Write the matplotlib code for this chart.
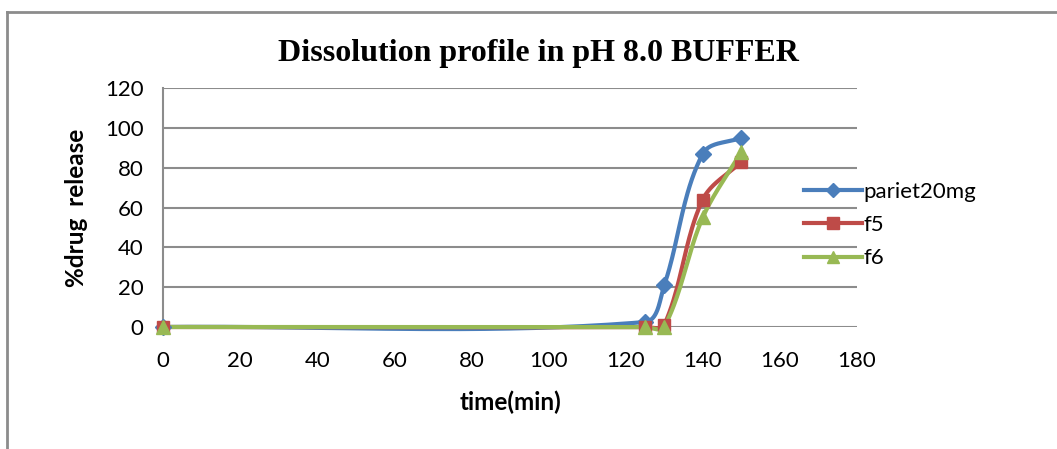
import numpy as np
import matplotlib
matplotlib.use("Agg")
import matplotlib.pyplot as plt
from matplotlib.lines import Line2D

# data
time = [0, 125, 130, 140, 150]
pariet = [0, 2.5, 21, 87, 95]
f5 = [0, 0, 1, 64, 83]
f6 = [0, 0, 0, 55, 88]

series = [("pariet20mg", pariet, "#4a7ebb", "D", 8),
          ("f5", f5, "#be4b48", "s", 9),
          ("f6", f6, "#98b954", "^", 10)]

SX, SY = 3.856, 1.99  # px per data unit, used for smoothing distances


def smooth(xs, ys, n=40):
    # excel-like smoothed line: bezier with length-weighted tangents
    p = np.column_stack([np.asarray(xs, float) * SX, np.asarray(ys, float) * SY])
    m = len(p)
    outx, outy = [], []
    t = np.linspace(0, 1, n)[:, None]
    for i in range(m - 1):
        a, b = p[i], p[i + 1]
        L = np.linalg.norm(b - a)
        prev = p[i - 1] if i > 0 else a
        nxt = p[i + 2] if i + 2 < m else b
        n0 = np.linalg.norm(b - prev)
        n1 = np.linalg.norm(nxt - a)
        c1 = a + (b - prev) / n0 * L / 3 if n0 > 0 else a
        c2 = b - (nxt - a) / n1 * L / 3 if n1 > 0 else b
        bz = (1 - t) ** 3 * a + 3 * (1 - t) ** 2 * t * c1 + 3 * (1 - t) * t ** 2 * c2 + t ** 3 * b
        outx.extend(bz[:, 0] / SX)
        outy.extend(bz[:, 1] / SY)
    return outx, outy


fig = plt.figure(figsize=(10.57, 4.49), dpi=100)
ax = fig.add_axes([163 / 1057, 1 - 327 / 449, (857 - 163) / 1057, (327 - 88) / 449])

tickfont = "Lato"
for name, ys, col, mk, ms in series:
    sx, sy = smooth(time, ys)
    ax.plot(sx, sy, color=col, lw=3, solid_capstyle="round", zorder=3, clip_on=False)
    ax.plot(time, ys, linestyle="none", marker=mk, markersize=ms, color=col,
            markeredgecolor=col, zorder=4, clip_on=False)

ax.set_xlim(0, 180)
ax.set_ylim(0, 120)
ax.set_xticks(range(0, 181, 20))
ax.set_yticks(range(0, 121, 20))
ax.grid(axis="y", color="#8c8c8c", lw=1.5)
ax.set_axisbelow(True)
for s in ["top", "right"]:
    ax.spines[s].set_visible(False)
ax.spines["left"].set_color("#8c8c8c")
ax.spines["left"].set_linewidth(1.5)
ax.spines["bottom"].set_visible(False)
ax.tick_params(length=0, labelsize=16)
for lab in ax.get_xticklabels() + ax.get_yticklabels():
    lab.set_fontfamily(tickfont)
ax.tick_params(axis="x", pad=17)
ax.tick_params(axis="y", pad=14)

ax.set_xlabel("time(min)", fontsize=17.5, fontweight="bold", fontfamily=tickfont, labelpad=14)
ax.set_ylabel("%drug  release", fontsize=17.5, fontweight="bold", fontfamily=tickfont, labelpad=12)

fig.text(538 / 1057, 1 - 53 / 449, "Dissolution profile in pH 8.0 BUFFER",
         ha="center", va="center", fontsize=23, fontweight="bold",
         fontfamily="Liberation Serif")

handles = [Line2D([], [], color=c, lw=3, marker=m, markersize=ms - 1)
           for _, _, c, m, ms in series]
leg = fig.legend(handles, [s[0] for s in series], loc="center left",
                 bbox_to_anchor=(784 / 1057, 1 - 225 / 449), frameon=False,
                 prop={"family": tickfont, "size": 16}, handlelength=2.6,
                 handletextpad=0.08, labelspacing=0.6)

# outer chart border
fig.add_artist(Line2D([7 / 1057, 7 / 1057], [0, 1 - 12 / 449], color="#8c8c8c", lw=2,
                      transform=fig.transFigure))
fig.add_artist(Line2D([7 / 1057, 1], [1 - 12 / 449, 1 - 12 / 449], color="#8c8c8c", lw=2,
                      transform=fig.transFigure))

fig.savefig("out.png", dpi=100)
